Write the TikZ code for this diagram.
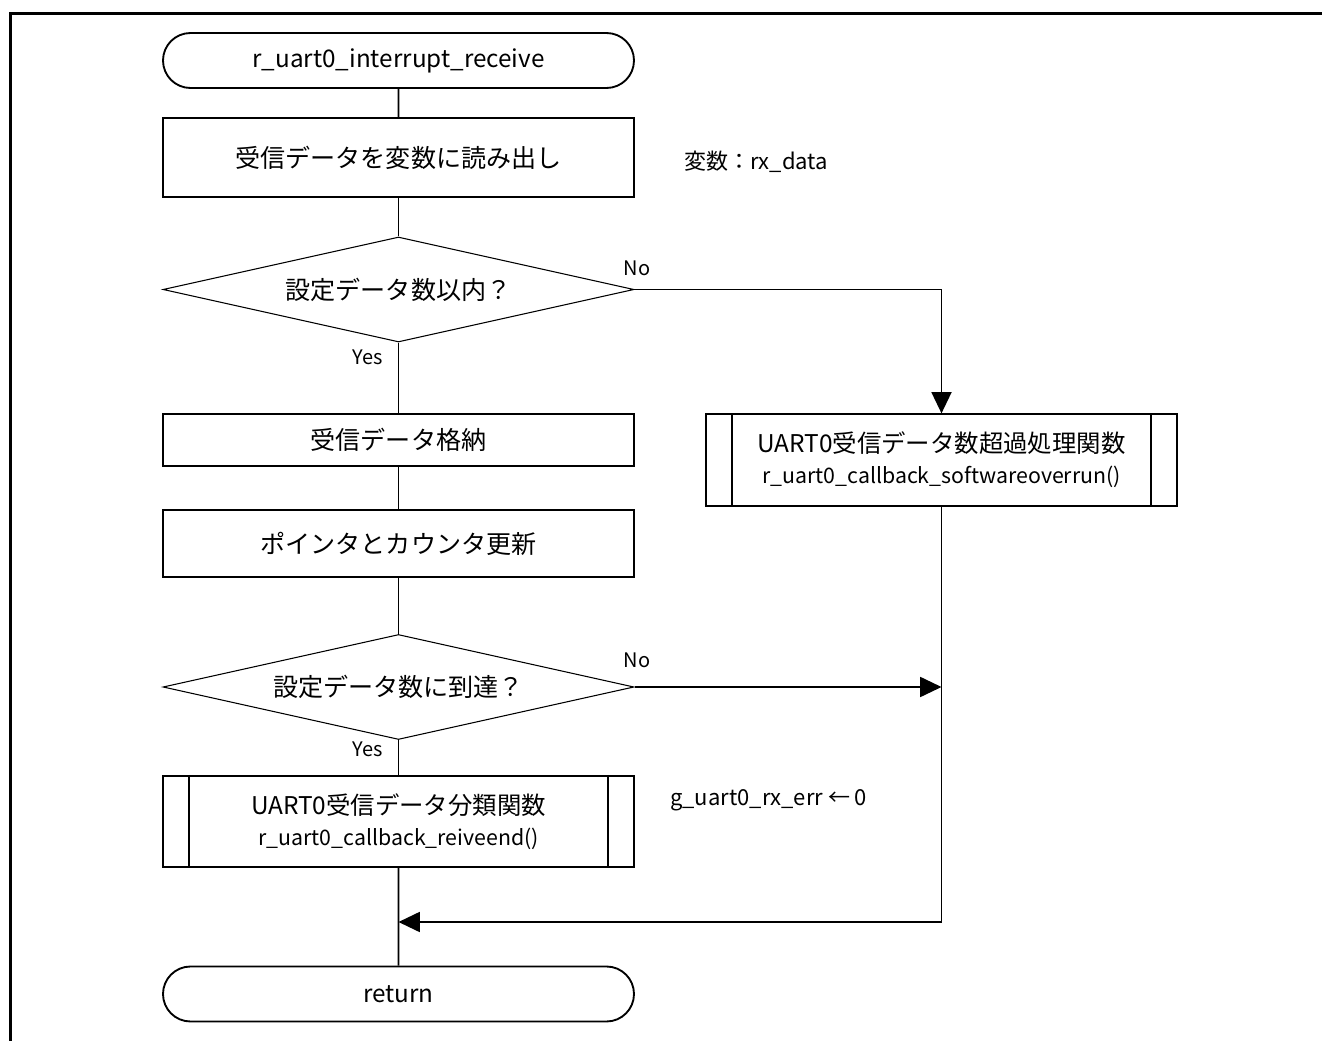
\documentclass[tikz,border=0pt]{standalone}
\usepackage{fontspec}
\setmainfont{Noto Sans CJK JP}
\usetikzlibrary{shapes.geometric,shapes.misc,arrows.meta}
\begin{document}
\begin{tikzpicture}[x=0.75pt,y=-0.75pt,
  mainfont/.style={font=\fontsize{18.8}{22}\selectfont},
  box/.style={draw,line width=1.4pt,rectangle,minimum width=353.25pt,inner sep=0pt,mainfont},
  term/.style={draw,line width=1.4pt,rounded rectangle,minimum width=353.25pt,minimum height=41.25pt,inner sep=0pt,font=\fontsize{18.2}{22}\selectfont},
  dec/.style={draw,line width=0.8pt,diamond,aspect=4.486,minimum width=353.25pt,minimum height=78.75pt,inner sep=0pt,mainfont},
  subbox/.style={draw,line width=1.4pt,rectangle,minimum width=353.25pt,minimum height=68.5pt,inner sep=0pt,align=center,font=\fontsize{16}{23.5}\selectfont},
  conn/.style={line width=1.4pt},
  arr/.style={line width=1.4pt,-{Triangle[length=16pt,width=15pt]}},
  lbl/.style={font=\fontsize{15}{18}\selectfont,inner sep=0pt},
  note/.style={font=\fontsize{16.5}{20}\selectfont,inner sep=0pt,anchor=west}
]
\useasboundingbox (0,0) rectangle (1322,1041);
% open frame
\draw[line width=2.25pt] (10.5,1041) -- (10.5,13.5) -- (1322,13.5);

% main column
\node[term] (start) at (398.5,60.5) {r\_uart0\_interrupt\_receive};
\node[box,minimum height=59.25pt] (read) at (398.5,157.5) {受信データを変数に読み出し};
\node[note] (n1) at (684,162) {変数：rx\_data};
\node[dec] (dec1) at (398.5,289.5) {設定データ数以内？};
\node[box,minimum height=39pt] (store) at (398.5,440) {受信データ格納};
\node[box,minimum height=50pt] (upd) at (398.5,543.5) {ポインタとカウンタ更新};
\node[dec] (dec2) at (398.5,687) {設定データ数に到達？};
\node[subbox] (sub2) at (398.5,821.5) {{\fontsize{18.3}{23.5}\selectfont UART0受信データ分類関数}\\r\_uart0\_callback\_reiveend()};
\draw[line width=1.4pt] ([xshift=20.25pt]sub2.north west) -- ([xshift=20.25pt]sub2.south west);
\draw[line width=1.4pt] ([xshift=-20.25pt]sub2.north east) -- ([xshift=-20.25pt]sub2.south east);
\node[note] (n2) at (670,800) {g\_uart0\_rx\_err ← 0};
\node[term] (ret) at (398.5,994) {return};

% right column
\node[subbox] (sub1) at (941.5,460) {{\fontsize{18.3}{23.5}\selectfont UART0受信データ数超過処理関数}\\r\_uart0\_callback\_softwareoverrun()};
\draw[line width=1.4pt] ([xshift=20.25pt]sub1.north west) -- ([xshift=20.25pt]sub1.south west);
\draw[line width=1.4pt] ([xshift=-20.25pt]sub1.north east) -- ([xshift=-20.25pt]sub1.south east);

% labels
\node[lbl] (y1) at (368,357) {Yes};
\node[lbl] (no1) at (637,268) {No};
\node[lbl] (y2) at (368,749) {Yes};
\node[lbl] (no2) at (637,660) {No};

% junction coordinates
\coordinate (j1) at (941.5,687);
\coordinate (j2) at (941.5,922);
\coordinate (j3) at (398.5,922);

% connectors
\draw[conn] (start) -- (read);
\draw[conn] (read) -- (dec1);
\draw[conn] (dec1) -- (store);
\draw[conn] (store) -- (upd);
\draw[conn] (upd) -- (dec2);
\draw[conn] (dec2) -- (sub2);
\draw[conn] (sub2) -- (ret);
\draw[arr] (dec1.east) -| (sub1.north);
\draw[arr] (dec2.east) -- (j1);
\draw[conn] (sub1.south) -- (j2);
\draw[arr] (j2) -- (j3);
\end{tikzpicture}
\end{document}
